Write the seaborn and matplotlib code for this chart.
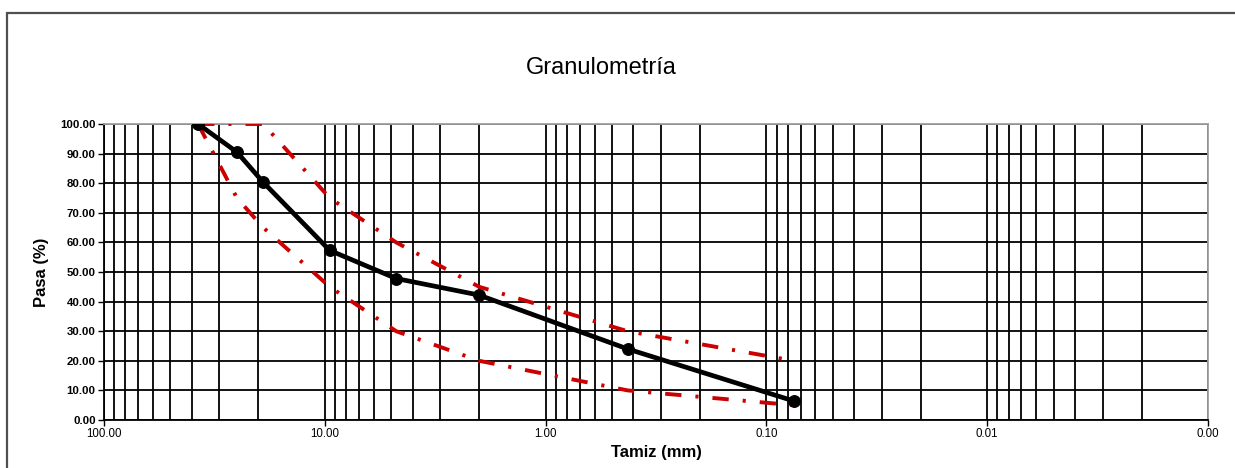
import matplotlib
matplotlib.use("Agg")
import matplotlib.pyplot as plt
import matplotlib.ticker as mticker
from matplotlib.patches import Rectangle
import numpy as np
import pandas as pd
import seaborn as sns

# Sieve openings (mm) and percent passing
tamiz_mm = [37.5, 25.0, 19.0, 9.5, 4.75, 2.0, 0.425, 0.075]
pasa = [100.0, 90.5, 80.3, 57.3, 47.8, 42.2, 24.0, 6.4]
limite_superior = [100, 100, 100, 75, 60, 45, 30, 20]
limite_inferior = [100, 75, 65, 45, 30, 20, 10, 5]

y_ticks = [0, 10, 20, 30, 40, 50, 60, 70, 80, 90, 100]
x_ticks = [100, 10, 1, 0.1, 0.01, 0.001]

sns.set_style("white")
plt.rcParams["font.family"] = ["Liberation Sans", "DejaVu Sans"]
plt.rcParams.update({"text.color": "black", "axes.labelcolor": "black",
                     "xtick.color": "black", "ytick.color": "black"})

W, H = 1235, 468
fig = plt.figure(figsize=(W / 100, H / 100), dpi=100)
ax = fig.add_axes([104 / W, 1 - 420 / H, (1208 - 104) / W, (420 - 124) / H])

# outer chart frame
fig.patches.append(Rectangle((7 / W, -0.1), 1.2, 1 - 13 / H + 0.1, transform=fig.transFigure,
                             fill=False, edgecolor="#505050", linewidth=1.6, zorder=0))

df = pd.DataFrame({"tamiz": tamiz_mm, "pasa": pasa,
                   "sup": limite_superior, "inf": limite_inferior})

red = "#CC0000"
dashdot = (0, (4.2, 3.6, 0.8, 3.6))
for col in ["sup", "inf"]:
    sns.lineplot(data=df, x="tamiz", y=col, ax=ax, color=red, linewidth=2.8,
                 linestyle=dashdot, zorder=3, legend=False, estimator=None, sort=False)
sns.lineplot(data=df, x="tamiz", y="pasa", ax=ax, color="black", linewidth=3.4,
             marker="o", markersize=8.5, markeredgecolor="black", zorder=4,
             legend=False, estimator=None, sort=False)

ax.set_xscale("log")
ax.set_xlim(100, 0.001)
ax.set_ylim(0, 100)

ax.xaxis.set_major_locator(mticker.FixedLocator(x_ticks))
ax.xaxis.set_major_formatter(mticker.FixedFormatter([f"{v:.2f}" for v in x_ticks]))
ax.xaxis.set_minor_locator(mticker.LogLocator(base=10, subs=np.arange(2, 10), numticks=20))
ax.xaxis.set_minor_formatter(mticker.NullFormatter())
ax.set_yticks(y_ticks)
ax.set_yticklabels([f"{v:.2f}" for v in y_ticks])

ax.grid(True, which="both", axis="x", color="black", linewidth=1.3)
ax.grid(True, which="major", axis="y", color="black", linewidth=1.3)
ax.set_axisbelow(True)

ax.tick_params(axis="x", which="major", direction="out", length=4, width=1, color="black",
               labelcolor="black", labelsize=8.3, pad=2, bottom=True)
ax.tick_params(axis="x", which="minor", length=0)
ax.tick_params(axis="y", which="major", direction="out", length=4, width=1, color="black",
               labelcolor="black", labelsize=8.2, pad=2, left=True)
for lbl in ax.get_yticklabels():
    lbl.set_fontweight("bold")

for side in ["left", "bottom"]:
    ax.spines[side].set_color("black")
    ax.spines[side].set_linewidth(1.3)
for side in ["top", "right"]:
    ax.spines[side].set_color("#a0a0a0")
    ax.spines[side].set_linewidth(1.3)

ax.set_xlabel("Tamiz (mm)", fontsize=12, fontweight="bold", labelpad=3, color="black")
ax.set_ylabel("Pasa (%)", fontsize=12, fontweight="bold", labelpad=8, color="black")

fig.text(601 / W, 1 - 68 / H, "Granulometría", ha="center", va="center",
         fontsize=17, color="black")

fig.savefig("out.png", dpi=100)
